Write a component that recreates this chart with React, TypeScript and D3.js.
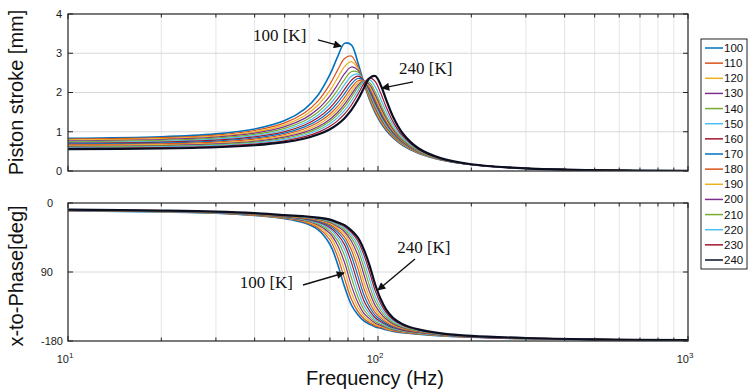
import React, { useEffect, useRef } from "react";
import * as d3 from "d3";

// frequency grid shared by every curve (Hz)
const FREQ = [10, 20, 30, 40, 50, 58, 64, 70, 74, 78, 82, 86, 90, 94, 98, 102, 106, 112, 120, 135, 160, 200, 300, 500, 1000];
const TEMPS = [100, 110, 120, 130, 140, 150, 160, 170, 180, 190, 200, 210, 220, 230, 240];

// piston stroke [mm]
const stroke100 = [0.832, 0.871, 0.945, 1.07, 1.285, 1.579, 1.93, 2.46, 2.902, 3.251, 3.214, 2.779, 2.251, 1.811, 1.48, 1.232, 1.045, 0.84, 0.655, 0.449, 0.279, 0.16, 0.064, 0.022, 0.005];
const stroke110 = [0.812, 0.848, 0.916, 1.032, 1.226, 1.484, 1.781, 2.212, 2.563, 2.868, 2.929, 2.66, 2.235, 1.832, 1.509, 1.261, 1.07, 0.86, 0.67, 0.457, 0.283, 0.162, 0.065, 0.022, 0.005];
const stroke120 = [0.791, 0.825, 0.89, 0.997, 1.176, 1.409, 1.674, 2.052, 2.365, 2.661, 2.788, 2.623, 2.262, 1.877, 1.552, 1.297, 1.1, 0.882, 0.684, 0.465, 0.286, 0.163, 0.065, 0.022, 0.006];
const stroke130 = [0.77, 0.803, 0.863, 0.963, 1.129, 1.341, 1.578, 1.915, 2.196, 2.48, 2.65, 2.576, 2.282, 1.921, 1.597, 1.335, 1.131, 0.904, 0.699, 0.473, 0.289, 0.164, 0.066, 0.022, 0.006];
const stroke140 = [0.75, 0.78, 0.837, 0.931, 1.085, 1.28, 1.497, 1.801, 2.058, 2.33, 2.528, 2.524, 2.292, 1.958, 1.637, 1.37, 1.159, 0.924, 0.712, 0.479, 0.292, 0.165, 0.066, 0.022, 0.006];
const stroke150 = [0.729, 0.758, 0.812, 0.9, 1.044, 1.224, 1.422, 1.701, 1.937, 2.198, 2.415, 2.47, 2.301, 1.997, 1.68, 1.407, 1.189, 0.945, 0.725, 0.485, 0.294, 0.166, 0.066, 0.022, 0.006];
const stroke160 = [0.709, 0.736, 0.787, 0.87, 1.004, 1.171, 1.354, 1.61, 1.829, 2.08, 2.31, 2.416, 2.309, 2.04, 1.728, 1.449, 1.223, 0.968, 0.739, 0.491, 0.296, 0.166, 0.066, 0.022, 0.006];
const stroke170 = [0.688, 0.715, 0.763, 0.841, 0.966, 1.123, 1.292, 1.529, 1.735, 1.974, 2.212, 2.357, 2.307, 2.074, 1.77, 1.486, 1.252, 0.987, 0.75, 0.495, 0.297, 0.166, 0.066, 0.022, 0.005];
const stroke180 = [0.668, 0.693, 0.738, 0.812, 0.93, 1.076, 1.234, 1.454, 1.646, 1.876, 2.117, 2.294, 2.3, 2.107, 1.816, 1.527, 1.284, 1.008, 0.761, 0.499, 0.297, 0.165, 0.065, 0.022, 0.005];
const stroke190 = [0.648, 0.671, 0.714, 0.784, 0.895, 1.032, 1.18, 1.386, 1.567, 1.787, 2.031, 2.238, 2.298, 2.151, 1.871, 1.577, 1.322, 1.032, 0.774, 0.504, 0.298, 0.165, 0.065, 0.022, 0.005];
const stroke200 = [0.627, 0.65, 0.69, 0.756, 0.861, 0.989, 1.127, 1.32, 1.491, 1.702, 1.946, 2.177, 2.29, 2.195, 1.934, 1.633, 1.365, 1.059, 0.788, 0.508, 0.298, 0.164, 0.064, 0.022, 0.005];
const stroke210 = [0.612, 0.633, 0.672, 0.735, 0.834, 0.956, 1.086, 1.268, 1.429, 1.632, 1.873, 2.123, 2.287, 2.247, 2.012, 1.705, 1.422, 1.096, 0.809, 0.516, 0.301, 0.165, 0.064, 0.022, 0.005];
const stroke220 = [0.596, 0.617, 0.653, 0.713, 0.805, 0.918, 1.038, 1.206, 1.355, 1.544, 1.778, 2.042, 2.266, 2.321, 2.142, 1.836, 1.53, 1.167, 0.851, 0.535, 0.308, 0.168, 0.065, 0.022, 0.005];
const stroke230 = [0.576, 0.595, 0.63, 0.685, 0.771, 0.875, 0.985, 1.139, 1.277, 1.453, 1.676, 1.946, 2.22, 2.374, 2.279, 1.985, 1.651, 1.245, 0.893, 0.551, 0.313, 0.169, 0.065, 0.022, 0.005];
const stroke240 = [0.556, 0.573, 0.605, 0.656, 0.735, 0.829, 0.928, 1.066, 1.188, 1.346, 1.549, 1.807, 2.108, 2.369, 2.42, 2.193, 1.84, 1.37, 0.962, 0.579, 0.322, 0.172, 0.066, 0.022, 0.005];

// x-to-phase [deg]
const phase100 = [-10.2, -11.6, -13.4, -16.4, -20.4, -26.2, -34.8, -54.1, -79.3, -109.3, -132.7, -145.5, -153.8, -158.1, -161.7, -163.3, -165.3, -167.6, -169.1, -171.1, -173.3, -175.2, -177.1, -178.3, -179.2];
const phase110 = [-10.1, -11.4, -13.2, -16.1, -19.9, -25.0, -32.4, -48.3, -69.7, -98.7, -125.3, -141.0, -150.9, -156.1, -160.3, -162.2, -164.5, -166.9, -168.7, -170.8, -173.1, -175.1, -177.0, -178.3, -179.2];
const phase120 = [-10.0, -11.3, -13.0, -15.8, -19.4, -24.0, -30.4, -43.7, -61.5, -87.9, -116.8, -135.7, -147.5, -153.8, -158.6, -161.0, -163.5, -166.2, -168.1, -170.4, -172.9, -175.0, -177.0, -178.2, -179.1];
const phase130 = [-9.9, -11.1, -12.8, -15.5, -19.0, -23.1, -28.7, -39.8, -54.7, -77.7, -107.1, -129.3, -143.6, -151.2, -156.8, -159.6, -162.4, -165.4, -167.6, -170.1, -172.7, -174.9, -176.9, -178.2, -179.1];
const phase140 = [-9.8, -11.0, -12.6, -15.2, -18.6, -22.3, -27.2, -36.7, -49.1, -68.6, -96.9, -121.9, -138.9, -148.2, -154.7, -158.1, -161.3, -164.6, -167.0, -169.7, -172.5, -174.7, -176.8, -178.2, -179.1];
const phase150 = [-9.7, -10.9, -12.5, -15.0, -18.2, -21.6, -25.9, -34.0, -44.6, -60.8, -86.7, -113.5, -133.5, -144.7, -152.4, -156.4, -160.0, -163.7, -166.4, -169.3, -172.3, -174.6, -176.8, -178.1, -179.1];
const phase160 = [-9.6, -10.7, -12.3, -14.8, -17.8, -20.9, -24.7, -31.8, -40.8, -54.3, -77.1, -104.2, -127.1, -140.6, -149.6, -154.5, -158.5, -162.7, -165.7, -168.9, -172.1, -174.5, -176.7, -178.1, -179.0];
const phase170 = [-9.5, -10.6, -12.2, -14.6, -17.5, -20.3, -23.7, -29.9, -37.6, -48.9, -68.5, -94.4, -119.7, -135.9, -146.5, -152.3, -157.0, -161.6, -165.0, -168.5, -171.9, -174.4, -176.6, -178.1, -179.0];
const phase180 = [-9.4, -10.5, -12.0, -14.4, -17.2, -19.8, -22.8, -28.2, -34.9, -44.4, -61.1, -84.7, -111.4, -130.3, -142.9, -149.9, -155.2, -160.4, -164.2, -168.1, -171.6, -174.2, -176.5, -178.0, -179.0];
const phase190 = [-9.3, -10.4, -11.9, -14.2, -16.9, -19.3, -22.0, -26.8, -32.7, -40.6, -54.8, -75.6, -102.4, -123.9, -138.8, -147.1, -153.2, -159.1, -163.4, -167.6, -171.4, -174.1, -176.5, -178.0, -179.0];
const phase200 = [-9.2, -10.3, -11.7, -14.0, -16.7, -18.8, -21.3, -25.5, -30.7, -37.5, -49.5, -67.4, -93.0, -116.6, -133.9, -143.9, -151.0, -157.7, -162.5, -167.1, -171.1, -173.9, -176.4, -178.0, -179.0];
const phase210 = [-9.0, -10.2, -11.6, -13.8, -16.4, -18.4, -20.6, -24.4, -29.1, -34.8, -45.2, -60.3, -83.8, -108.5, -128.3, -140.2, -148.4, -156.1, -161.5, -166.6, -170.9, -173.8, -176.3, -177.9, -178.9];
const phase220 = [-8.9, -10.1, -11.5, -13.6, -16.2, -18.0, -20.0, -23.4, -27.6, -32.5, -41.5, -54.3, -75.1, -99.7, -121.9, -135.9, -145.5, -154.3, -160.4, -166.1, -170.6, -173.6, -176.3, -177.9, -178.9];
const phase230 = [-8.8, -10.0, -11.3, -13.4, -16.0, -17.7, -19.5, -22.5, -26.3, -30.6, -38.3, -49.2, -67.3, -90.7, -114.6, -131.0, -142.2, -152.4, -159.3, -165.5, -170.3, -173.5, -176.2, -177.9, -178.9];
const phase240 = [-8.6, -9.9, -11.2, -13.2, -15.8, -17.3, -19.0, -21.7, -25.2, -28.9, -35.7, -44.9, -60.6, -81.9, -106.6, -125.3, -138.4, -150.1, -158.0, -164.9, -170.0, -173.3, -176.1, -177.8, -178.9];

const STROKE_SERIES = [stroke100, stroke110, stroke120, stroke130, stroke140, stroke150, stroke160, stroke170, stroke180, stroke190, stroke200, stroke210, stroke220, stroke230, stroke240];
const PHASE_SERIES = [phase100, phase110, phase120, phase130, phase140, phase150, phase160, phase170, phase180, phase190, phase200, phase210, phase220, phase230, phase240];

const STROKE_TICKS = [0, 1, 2, 3, 4];
const PHASE_TICKS = [0, -90, -180];
const PHASE_TICK_LABELS = ["0", "90", "-180"];
const X_LABEL_DECADES = [1, 2, 3];

// annotations: [label, text f, text y, tail f, tail y, head f, head y]
const STROKE_NOTES: [string, number, number, number, number, number, number][] = [
  ["100 [K]", 39.5, 3.31, 64.0, 3.34, 76.0, 3.18],
  ["240 [K]", 116.9, 2.47, 129.7, 2.27, 103.0, 2.11],
];
const PHASE_NOTES: [string, number, number, number, number, number, number][] = [
  ["100 [K]", 53.2, -110.9, 57.3, -107.0, 77.7, -91.3],
  ["240 [K]", 115.3, -65.2, 131.6, -73.0, 100.0, -113.5],
];

const PALETTE = ["#0072BD", "#D95319", "#EDB120", "#7E2F8E", "#77AC30", "#4DBEEE", "#A2142F"];
const colorOf = (i: number) => (i === TEMPS.length - 1 ? "#0b0f22" : PALETTE[i % PALETTE.length]);

const SANS = "'Liberation Sans', Arial, sans-serif";
const SERIF = "'Liberation Serif', 'Times New Roman', serif";

export default function App() {
  const ref = useRef<SVGSVGElement>(null);

  useEffect(() => {
    const svg = d3.select(ref.current);
    svg.selectAll("*").remove();

    const left = 68, right = 688;
    const x = d3.scaleLog().domain([10, 1000]).range([left, right]);
    const xTicks = x.ticks();

    const defs = svg.append("defs");
    defs.append("marker")
      .attr("id", "arrowhead")
      .attr("viewBox", "0 0 10 10")
      .attr("refX", 9).attr("refY", 5)
      .attr("markerWidth", 10).attr("markerHeight", 8)
      .attr("markerUnits", "userSpaceOnUse")
      .attr("orient", "auto")
      .append("path").attr("d", "M0,0 L10,5 L0,10 z").attr("fill", "#111");

    function panel(
      id: string,
      top: number,
      bottom: number,
      y: d3.ScaleLinear<number, number>,
      yTicks: number[],
      yLabel: (v: number, i: number) => string,
      labelRight: (i: number) => number,
      series: number[][],
      notes: [string, number, number, number, number, number, number][],
      noteAnchor: string[]
    ) {
      const g = svg.append("g");
      defs.append("clipPath").attr("id", id)
        .append("rect").attr("x", left).attr("y", top).attr("width", right - left).attr("height", bottom - top);

      // grid
      g.selectAll(".vg").data(xTicks.slice(1, -1)).join("line")
        .attr("x1", d => x(d)).attr("x2", d => x(d)).attr("y1", top).attr("y2", bottom)
        .attr("stroke", "#e4e4e4").attr("stroke-width", 1);
      g.selectAll(".hg").data(yTicks.slice(1, -1)).join("line")
        .attr("x1", left).attr("x2", right).attr("y1", d => y(d)).attr("y2", d => y(d))
        .attr("stroke", "#d8d8d8").attr("stroke-width", 1);

      // curves
      const line = d3.line<number>()
        .x((_, i) => x(FREQ[i]))
        .y(d => y(d))
        .curve(d3.curveCatmullRom.alpha(0.5));
      const cg = g.append("g").attr("clip-path", `url(#${id})`);
      series.forEach((s, i) => {
        cg.append("path")
          .attr("d", line(s))
          .attr("fill", "none")
          .attr("stroke", colorOf(i))
          .attr("stroke-width", i === series.length - 1 ? 2.2 : i === 0 ? 1.6 : 1.2)
          .attr("stroke-linejoin", "round");
      });

      // frame
      g.append("rect").attr("x", left).attr("y", top).attr("width", right - left).attr("height", bottom - top)
        .attr("fill", "none").attr("stroke", "#333").attr("stroke-width", 1.3);

      // inward ticks
      xTicks.forEach(t => {
        const len = [10, 100, 1000].includes(t) ? 5 : 3.5;
        g.append("line").attr("x1", x(t)).attr("x2", x(t)).attr("y1", top).attr("y2", top + len).attr("stroke", "#222");
        g.append("line").attr("x1", x(t)).attr("x2", x(t)).attr("y1", bottom).attr("y2", bottom - len).attr("stroke", "#222");
      });
      yTicks.forEach(t => {
        g.append("line").attr("x1", left).attr("x2", left + 5).attr("y1", y(t)).attr("y2", y(t)).attr("stroke", "#222");
        g.append("line").attr("x1", right).attr("x2", right - 5).attr("y1", y(t)).attr("y2", y(t)).attr("stroke", "#222");
      });

      // y tick labels
      g.selectAll(".yl").data(yTicks).join("text")
        .attr("x", (_, i) => labelRight(i))
        .attr("y", d => y(d))
        .attr("dy", "0.35em")
        .attr("text-anchor", "end")
        .attr("font-family", SANS).attr("font-size", 11).attr("fill", "#1a1a1a")
        .text((d, i) => yLabel(d, i));

      // annotations
      notes.forEach(([label, tf, tv, af, av, hf, hv], i) => {
        g.append("text")
          .attr("x", x(tf)).attr("y", y(tv))
          .attr("text-anchor", noteAnchor[i])
          .attr("font-family", SERIF).attr("font-size", 17).attr("fill", "#111")
          .text(label);
        g.append("line")
          .attr("x1", x(af)).attr("y1", y(av)).attr("x2", x(hf)).attr("y2", y(hv))
          .attr("stroke", "#111").attr("stroke-width", 1.4)
          .attr("marker-end", "url(#arrowhead)");
      });
      return g;
    }

    const yTop = d3.scaleLinear().domain([0, 4]).range([171, 14]);
    const yBot = d3.scaleLinear().domain([-180, 0]).range([341, 203]);

    panel("clipTop", 14, 171, yTop, STROKE_TICKS, d => String(d), () => 62,
      STROKE_SERIES, STROKE_NOTES, ["start", "start"]);
    panel("clipBot", 203, 341, yBot, PHASE_TICKS, (_, i) => PHASE_TICK_LABELS[i], i => (i === 2 ? 63 : 53),
      PHASE_SERIES, PHASE_NOTES, ["end", "start"]);

    // x tick labels 10^n
    X_LABEL_DECADES.forEach(p => {
      const t = svg.append("text")
        .attr("x", x(Math.pow(10, p)) - 3).attr("y", 363)
        .attr("text-anchor", "middle")
        .attr("font-family", SANS).attr("font-size", 11).attr("fill", "#1a1a1a");
      t.append("tspan").text("10");
      t.append("tspan").attr("dy", -5).attr("font-size", 8).text(String(p));
    });

    // axis titles
    svg.append("text")
      .attr("transform", `translate(23,${(14 + 171) / 2}) rotate(-90)`)
      .attr("text-anchor", "middle")
      .attr("font-family", SANS).attr("font-size", 20).attr("fill", "#111")
      .text("Piston stroke [mm]");
    svg.append("text")
      .attr("transform", `translate(23,276) rotate(-90)`)
      .attr("text-anchor", "middle")
      .attr("font-family", SANS).attr("font-size", 20).attr("fill", "#111")
      .text("x-to-Phase[deg]");
    svg.append("text")
      .attr("x", 375).attr("y", 385)
      .attr("text-anchor", "middle")
      .attr("font-family", SANS).attr("font-size", 20).attr("fill", "#111")
      .text("Frequency (Hz)");

    // legend
    const lg = svg.append("g");
    lg.append("rect").attr("x", 701).attr("y", 39).attr("width", 46).attr("height", 230)
      .attr("fill", "#fff").attr("stroke", "#222").attr("stroke-width", 1);
    const ly = d3.scalePoint<number>().domain(TEMPS).range([48, 260]);
    TEMPS.forEach((t, i) => {
      lg.append("line").attr("x1", 705).attr("x2", 723).attr("y1", ly(t)!).attr("y2", ly(t)!)
        .attr("stroke", colorOf(i)).attr("stroke-width", 1.5);
      lg.append("text").attr("x", 724).attr("y", ly(t)!).attr("dy", "0.35em")
        .attr("font-family", SANS).attr("font-size", 11.5).attr("fill", "#111")
        .text(String(t));
    });
  }, []);

  return (
    <svg
      ref={ref}
      width={748}
      height={392}
      style={{ position: "absolute", left: 0, top: 0, background: "#fff" }}
    />
  );
}
